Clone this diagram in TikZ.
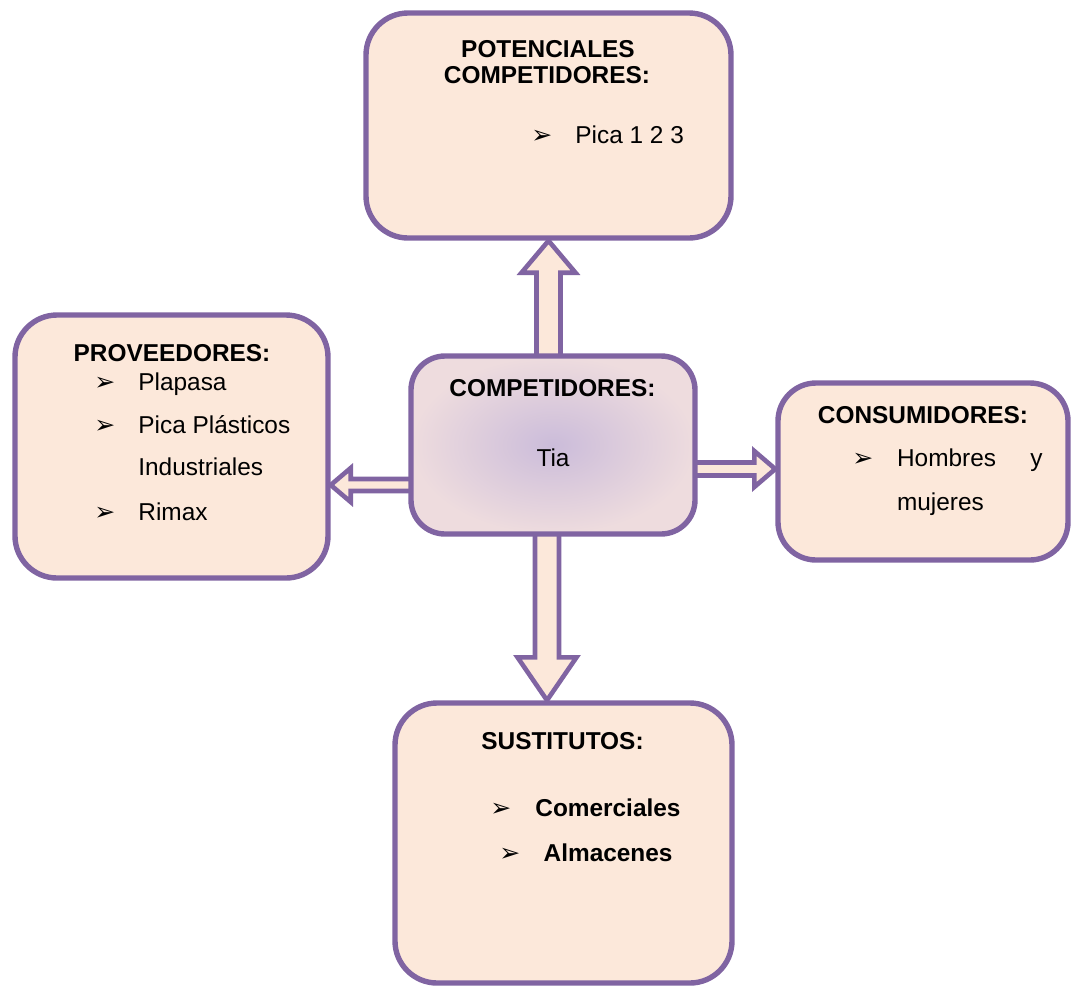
\documentclass[tikz,border=0pt]{standalone}
\usepackage{fontspec}
\setmainfont{Liberation Sans}
\newfontfamily\dingfont{DejaVu Sans}
\usetikzlibrary{calc,backgrounds}

\definecolor{borde}{HTML}{8064A2}
\definecolor{melocoton}{HTML}{FCE8DA}
\definecolor{rosado}{HTML}{EEDCDE}
\definecolor{lila}{HTML}{CBBCDA}
\newcommand{\vineta}{{\dingfont\fontsize{12.5}{12.5}\selectfont\char"27A2}}

\begin{document}
\begin{tikzpicture}[x=0.5pt,y=-0.5pt,
    caja/.style={draw=borde,line width=2.7pt,fill=melocoton,rounded corners=21pt},
    bloque/.style={draw=borde,line width=2.3pt,fill=melocoton,line join=miter},
    titulo/.style={font=\fontsize{12.2}{14}\selectfont\bfseries,anchor=base,inner sep=0pt},
    item/.style={font=\fontsize{12.2}{14}\selectfont,anchor=base west,inner sep=0pt}]
  \useasboundingbox (0,0) rectangle (1072,987);
  % cajas
  \node[caja,minimum width=182.5pt,minimum height=112.5pt] (pot) at (548.5,125.5) {};
  \node[caja,minimum width=156.5pt,minimum height=131.5pt] (prov) at (171.5,446.5) {};
  \node[caja,minimum width=145pt,minimum height=88.5pt,rounded corners=19pt] (cons) at (923,471.5) {};
  \node[caja,minimum width=168.5pt,minimum height=140pt] (sus) at (563.5,843) {};
  \node[caja,inner color=lila,outer color=rosado,rounded corners=17pt,
        minimum width=142pt,minimum height=89pt] (cen) at (553,445) {};
  % flechas
  \coordinate (uT) at (pot.south);
  \coordinate (dT) at ($(sus.north)+(-16.5,0)$);
  \coordinate (lT) at ($(prov.east)+(0,38.5)$);
  \coordinate (rT) at ($(cons.west)+(0,-2.5)$);
  \begin{scope}[on background layer]
    \draw[bloque] ($(uT |- cen.north)+(-12,5)$) -- ($(uT)+(-12,32)$) -- ++(-15,0) -- (uT)
      -- ($(uT)+(27,32)$) -- ++(-15,0) -- ($(uT |- cen.north)+(12,5)$);
    \draw[bloque] ($(dT |- cen.south)+(-12,-5)$) -- ($(dT)+(-12,-43)$) -- ++(-17.5,0) -- (dT)
      -- ($(dT)+(29.5,-43)$) -- ++(-17.5,0) -- ($(dT |- cen.south)+(12,-5)$);
    \draw[bloque] ($(lT -| cen.west)+(5,-6)$) -- ($(lT)+(20,-6)$) -- ++(0,-11) -- (lT)
      -- ($(lT)+(20,17)$) -- ++(0,-11) -- ($(lT -| cen.west)+(5,6)$);
    \draw[bloque] ($(rT -| cen.east)+(-5,-6.5)$) -- ($(rT)+(-21,-6.5)$) -- ++(0,-11.5) -- (rT)
      -- ($(rT)+(-21,18)$) -- ++(0,-11.5) -- ($(rT -| cen.east)+(-5,6.5)$);
  \end{scope}
  % textos
  \node[titulo] (potA) at (548,57) {POTENCIALES};
  \node[titulo] (potB) at (547,83) {COMPETIDORES:};
  \node[item] (potV) at (531,143) {\vineta};
  \node[item] (potI) at (575,143) {Pica 1 2 3};

  \node[titulo] (cenT) at (552.5,396.7) {COMPETIDORES:};
  \node[titulo,font=\fontsize{12.2}{14}\selectfont] (cenI) at (553,466.7) {Tia};

  \node[titulo] (provT) at (172,361.7) {PROVEEDORES:};
  \node[item] (provV1) at (94,390.7) {\vineta};
  \node[item] (provI1) at (138,390.7) {Plapasa};
  \node[item] (provV2) at (94,433.3) {\vineta};
  \node[item] (provI2) at (138,433.3) {Pica Plásticos};
  \node[item] (provI3) at (138,475) {Industriales};
  \node[item] (provV4) at (94,520) {\vineta};
  \node[item] (provI4) at (138,520) {Rimax};

  \node[titulo] (consT) at (923,423.3) {CONSUMIDORES:};
  \node[item] (consV) at (852,466.7) {\vineta};
  \node[item] (consI1) at (896.7,466.7) {\makebox[72.7pt][s]{Hombres y}};
  \node[item] (consI2) at (896.7,510) {mujeres};

  \node[titulo] (susT) at (562.5,749.3) {SUSTITUTOS:};
  \node[item] (susV1) at (490,816.7) {\vineta};
  \node[item,font=\fontsize{12.2}{14}\selectfont\bfseries] (susI1) at (535,816.7) {Comerciales};
  \node[item] (susV2) at (499,861.7) {\vineta};
  \node[item,font=\fontsize{12.2}{14}\selectfont\bfseries] (susI2) at (543.3,861.7) {Almacenes};
\end{tikzpicture}
\end{document}
